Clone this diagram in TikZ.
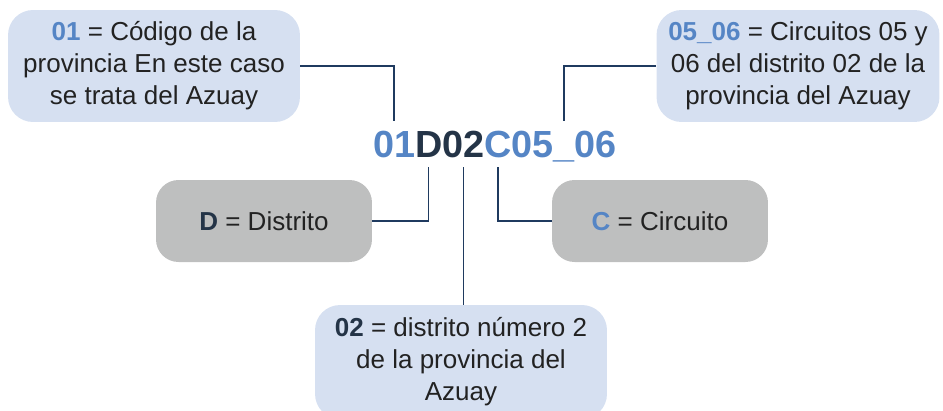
\documentclass[tikz,border=0pt]{standalone}
\usepackage{fontspec}
\setmainfont{Liberation Sans}
\usetikzlibrary{positioning}
\definecolor{cblue}{HTML}{5585C5}
\definecolor{cdark}{HTML}{243447}
\definecolor{ctext}{HTML}{222222}
\definecolor{cline}{HTML}{1F3A5F}
\definecolor{lightfill}{HTML}{D6E0F1}
\definecolor{grayfill}{HTML}{BEBFBF}

\begin{document}
\begin{tikzpicture}[x=0.02cm, y=-0.02cm,
    every node/.style={align=center, text=ctext, font=\fontsize{14.8}{18.2}\selectfont},
    descbox/.style={fill=lightfill, rounded corners=0.5cm, minimum width=5.84cm, minimum height=2.24cm},
    graybox/.style={fill=grayfill, rounded corners=0.45cm, minimum width=4.32cm, minimum height=1.64cm},
    codepart/.style={inner sep=0pt, outer xsep=0pt, outer ysep=0.2cm, anchor=base west, font=\fontsize{21.5}{24}\selectfont\bfseries},
    link/.style={draw=cline, line width=0.8pt}]
  \useasboundingbox (0,0) rectangle (943,410);
  % Code
  \node[codepart, text=cblue] (c01) at (373,157) {01};
  \node[codepart, text=cdark] (cD) at (c01.base east) {D};
  \node[codepart, text=cdark] (c02) at (cD.base east) {02};
  \node[codepart, text=cblue] (cC) at (c02.base east) {C};
  \node[codepart, text=cblue] (c0506) at (cC.base east) {05\_06};
  % Upper boxes
  \node[descbox] (prov) at (154,66) {{\color{cblue}\bfseries 01} = Código de la\\provincia En este caso\\se trata del Azuay};
  \node[descbox, minimum width=5.66cm] (circs) at (798,66) {{\color{cblue}\bfseries 05\_06} = Circuitos 05 y\\06 del distrito 02 de la\\provincia del Azuay};
  % Middle boxes
  \node[graybox] (dist) at (264,221) {{\color{cdark}\bfseries D} = Distrito};
  \node[graybox] (circ) at (660,221) {{\color{cblue}\bfseries C} = Circuito};
  % Lower box
  \node[descbox, minimum height=2.28cm] (num) at (461,362) {{\color{cdark}\bfseries 02} = distrito número 2\\de la provincia del\\Azuay};
  % Connectors
  \draw[link] (prov.east) -| (c01.north);
  \draw[link] (circs.west) -| (c0506.north);
  \draw[link] (cD.south) |- (dist.east);
  \draw[link] (cC.south) |- (circ.west);
  \draw[link] (c02.south) -- (c02.south |- num.north);
\end{tikzpicture}
\end{document}
